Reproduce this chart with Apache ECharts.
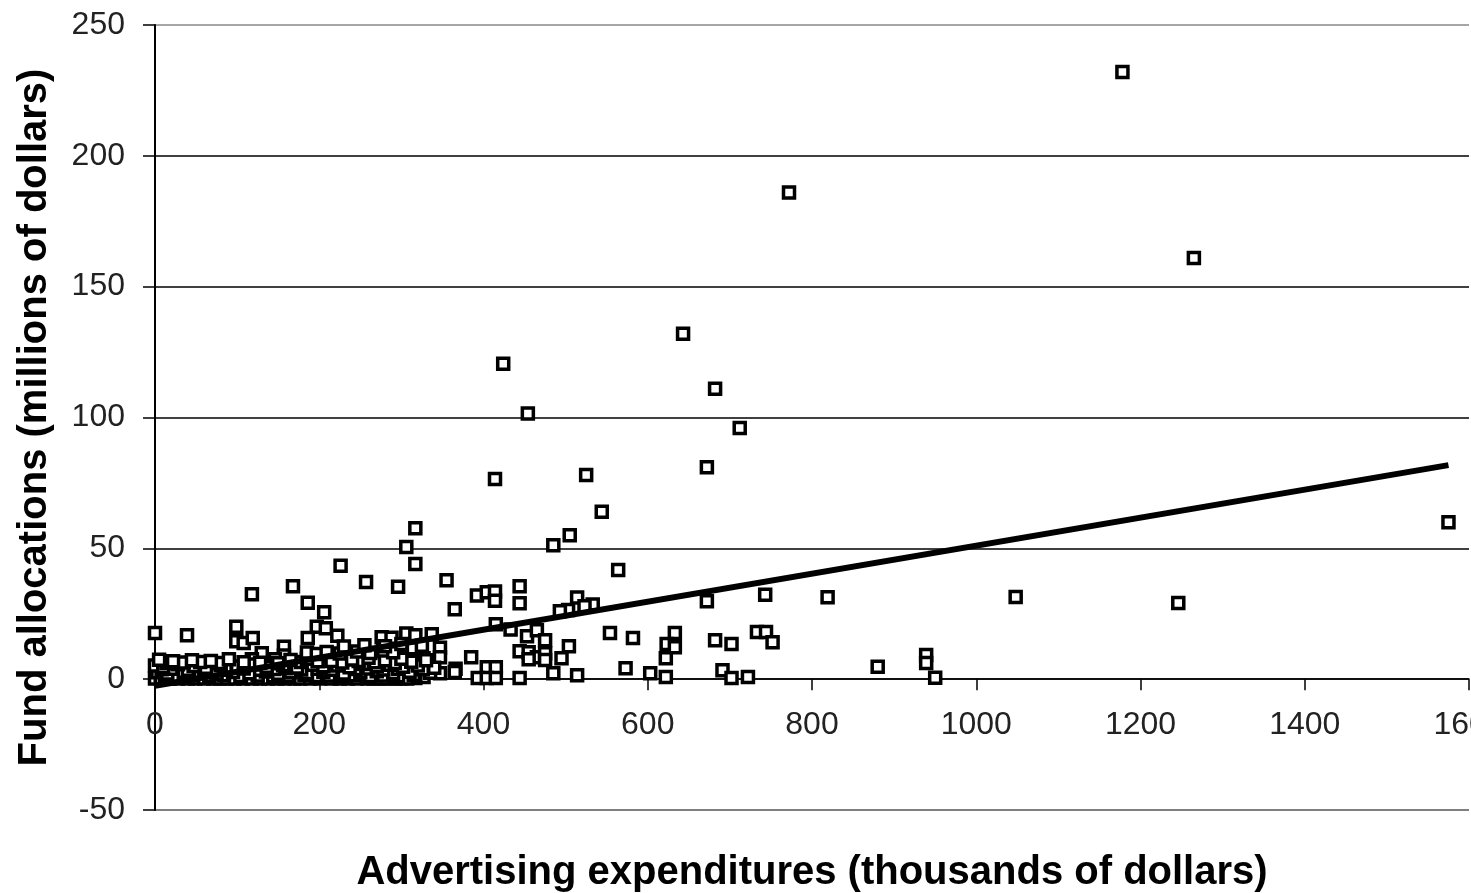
<!DOCTYPE html>
<html>
<head>
<meta charset="utf-8">
<script src="https://cdn.jsdelivr.net/npm/echarts@6/dist/echarts.min.js"></script>
<style>
html,body{margin:0;padding:0;background:#fff;}
#chart{width:1471px;height:893px;}
</style>
</head>
<body>
<div id="chart"></div>
<script>
// Tick values
const xTicks = [0, 200, 400, 600, 800, 1000, 1200, 1400, 1600];
const yTicks = [-50, 0, 50, 100, 150, 200, 250];

// Scatter points [advertising (thousands $), fund allocation (millions $)]
const highPoints = [[1178,232],[772,186],[1265,161],[643,132],[424,120.5],[682,111],[454,101.5],[712,96],[672,81],[414,76.5],[525,78],[544,64],[1575,60],[317,57.7],[505,55],[306,50.5],[485,51.2]];

const midPoints = [[317,44],[226,43.3],[564,41.7],[355,37.8],[257,37.1],[168,35.5],[296,35.3],[444,35.5],[392,32],[404,33.2],[414,33.5],[414,30],[118,32.5],[819,31.3],[1048,31.4],[743,32.3],[672,29.8],[1246,29.1],[514,31.2],[186,29.2],[444,29],[533,28.5],[523,27.9],[503,26.4],[493,26],[206,25.6],[365,26.7]];

const lowPoints = [[197,20],[208,19.5],[186,15.7],[222,16.6],[99,20],[0,17.6],[39,16.8],[99,14.5],[108,13.8],[119,15.7],[276,16],[288,15.8],[306,17.5],[317,16.8],[337,17.2],[415,21],[433,19],[453,16.4],[465,18.7],[475,14.9],[554,17.6],[582,15.7],[633,17.6],[623,13.4],[633,12.2],[682,14.9],[702,13.4],[733,18],[744,18],[752,14.1]];

const basePoints = [[880,4.7],[939,9.2],[939,6.2],[950,0.5],[622,8],[622,0.8],[603,2.3],[573,4.2],[691,3.4],[702,0.4],[722,0.8],[504,12.6],[495,8],[485,2.3],[514,1.5],[444,10.7],[455,10.3],[465,8.4],[475,9.9],[455,7.6],[475,7.3],[444,0.4],[347,12],[347,8.4],[327,8],[307,8],[314,11.8],[385,8.4],[366,4],[365,2.7],[347,2.3],[327,0.8],[317,0.4],[404,4.6],[415,4.6],[393,0.4],[404,0.4],[415,0.4],[130,9.9],[118,7.6],[157,12.4],[157,9],[146,7.6]];

const clusterPoints = [[0,0.3],[7,0.3],[18,0.3],[28,0.3],[40,0.3],[49,0.3],[60,0.3],[71,0.3],[79,0.3],[88,0.3],[97,0.3],[107,0.3],[118,0.3],[128,0.3],[138,0.3],[149,0.3],[158,0.3],[170,0.3],[177,0.3],[189,0.3],[201,0.3],[215,0.3],[225,0.3],[235,0.3],[246,0.3],[258,0.3],[266,0.3],[274,0.3],[282,0.3],[292,0.3],[300,0.3],[307,0.3],
[12,1.3],[24,1.1],[44,1.4],[66,1.2],[84,1.5],[104,1.2],[125,1.4],[144,1.1],[162,1.3],[182,1.6],[196,1.2],[212,1.4],[228,1.1],[242,1.5],[262,1.2],[278,1.4],[296,1.1],[315,1.5],
[3,2.6],[15,2.2],[35,2.8],[55,2.4],[75,2],[95,2.7],[115,2.3],[135,2.9],[150,2.1],[165,2.6],[185,2.4],[205,2.8],[230,2.2],[250,2.6],[270,3],[290,2.4],[310,2.8],[335,2.5],
[8,3.8],[20,4],[40,3.6],[60,3.9],[86,3.7],[108,4.1],[128,3.6],[145,3.9],[160,4.2],[178,3.7],[198,4],[215,3.6],[244,3.9],[260,4.1],[278,3.7],[296,4],[326,3.8],
[0,5.2],[10,4.6],[28,5.7],[47,5],[62,4.4],[80,5.4],[100,4.8],[120,5.6],[136,4.7],[156,5.3],[173,4.5],[192,5.5],[205,4.9],[222,5.2],[237,4.6],[253,5.8],[270,4.9],[286,5.5],[302,4.7],[320,5.2],[340,4.4],
[14,6.1],[35,6.4],[55,6.6],[78,6.2],[108,6.5],[128,6.3],[150,6.1],[178,6.6],[198,6.8],[228,6.4],[248,6.9],[268,6.5],[292,6.2],[312,6.7],[330,7.2],
[5,7.4],[22,6.8],[45,7.2],[68,6.9],[90,7.6],[165,7.3],[185,7.8],[215,6.9],[240,7.5],[260,8.2],[280,7.2],[300,7.8],
[185,10.2],[197,9.6],[209,10.4],[225,9.8],[246,10.6],[262,10],[278,11],[290,10.3],[230,12.5],[255,13],[280,12.6],[300,13.4],[325,12.8]];

// Trend line end points
const trendX = [0, 1575];
const trendY = [-2.5, 81.8];

const allPoints = [].concat(highPoints, midPoints, lowPoints, basePoints, clusterPoints);
const trendData = trendX.map((x, i) => [x, trendY[i]]);

const chart = echarts.init(document.getElementById('chart'));
const fontFam = '"Liberation Sans", Arial, sans-serif';
const plain = v => String(v);
chart.setOption({
  animation: false,
  backgroundColor: '#fff',
  grid: [
    { left: 155, right: 2, top: 25, bottom: 83, containLabel: false, outerBoundsMode: 'none' },
    // label band: its bottom edge sits on the zero line of the main plot
    { left: 155, right: 2, top: 25, bottom: 214, containLabel: false, outerBoundsMode: 'none' }
  ],
  xAxis: [
    {
      gridIndex: 0,
      type: 'value',
      min: xTicks[0], max: xTicks[xTicks.length - 1], interval: 200,
      axisLine: { onZero: true, lineStyle: { color: '#000', width: 1.5 } },
      axisTick: { show: true, inside: false, length: 11, lineStyle: { color: '#000', width: 1.5 } },
      axisLabel: { show: false },
      splitLine: { show: false }
    },
    {
      gridIndex: 1,
      type: 'value',
      position: 'bottom',
      min: xTicks[0], max: xTicks[xTicks.length - 1], interval: 200,
      name: 'Advertising expenditures (thousands of dollars)',
      nameLocation: 'middle',
      nameGap: 174,
      nameTextStyle: { fontFamily: fontFam, fontSize: 40, fontWeight: 'bold', color: '#000' },
      axisLine: { show: false, onZero: false },
      axisTick: { show: false },
      axisLabel: { fontFamily: fontFam, fontSize: 32, color: '#222', margin: 30, showMaxLabel: true, showMinLabel: true, formatter: plain },
      splitLine: { show: false }
    }
  ],
  yAxis: [
    {
      gridIndex: 0,
      type: 'value',
      min: yTicks[0], max: yTicks[yTicks.length - 1], interval: 50,
      name: 'Fund allocations (millions of dollars)',
      nameLocation: 'middle',
      nameGap: 100,
      nameRotate: 90,
      nameTextStyle: { fontFamily: fontFam, fontSize: 40, fontWeight: 'bold', color: '#000' },
      axisLine: { show: true, onZero: false, lineStyle: { color: '#000', width: 2 } },
      axisTick: { show: true, inside: false, length: 12, lineStyle: { color: '#000', width: 1.5 } },
      axisLabel: { fontFamily: fontFam, fontSize: 32, color: '#222', margin: 30, formatter: plain },
      splitLine: { show: true, lineStyle: { color: ['#555', '#000', '#000', '#000', '#000', '#000', '#888'], width: 1.5 } }
    },
    {
      gridIndex: 1,
      type: 'value',
      min: 0, max: 1,
      show: false
    }
  ],
  series: [
    {
      type: 'scatter',
      xAxisIndex: 0, yAxisIndex: 0,
      data: allPoints,
      symbol: 'rect',
      symbolSize: 11,
      itemStyle: { color: '#fff', borderColor: '#000', borderWidth: 3.5, opacity: 1 },
      z: 2
    },
    {
      type: 'line',
      xAxisIndex: 0, yAxisIndex: 0,
      data: trendData,
      showSymbol: false,
      symbol: 'none',
      lineStyle: { color: '#000', width: 6 },
      z: 3
    }
  ]
});
</script>
</body>
</html>
